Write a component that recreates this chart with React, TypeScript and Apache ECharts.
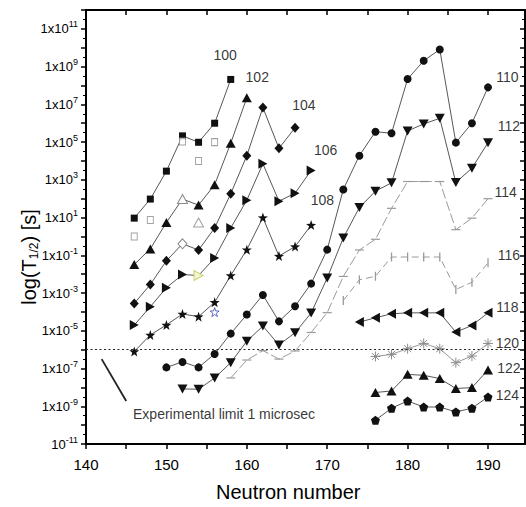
import React, { useEffect, useRef } from 'react';
import * as echarts from 'echarts';

const FONT = '"Liberation Sans Narrow", "Arial Narrow", "Liberation Sans", Arial, sans-serif';

// Neutron numbers (x) and log10 of half-life in seconds (y)
const n100 = [146, 148, 150, 152, 154, 156, 158];
const t100 = [0.97, 1.98, 3.46, 5.33, 4.99, 6.0, 8.32];
const n100open = [146, 148, 152, 154, 156];
const t100open = [0.0, 0.87, 5.03, 4.0, 5.0];

const n102 = [146, 148, 150, 152, 154, 156, 158, 160];
const t102 = [-1.49, -0.66, 0.74, 1.98, 1.66, 2.74, 4.94, 7.35];
const n102open = [154];
const t102open = [0.74];

const n104 = [146, 148, 150, 152, 154, 156, 158, 160, 162, 164, 166];
const t104 = [-3.55, -2.55, -1.29, -0.39, -0.72, 0.45, 2.26, 4.28, 6.83, 4.67, 5.76];

const n106 = [146, 148, 150, 152, 154, 156, 158, 160, 162, 164, 166, 168];
const t106 = [-4.7, -3.72, -2.72, -2.02, -2.07, -1.14, 0.45, 1.92, 3.85, 1.87, 2.29, 3.5];

const n108 = [146, 148, 150, 152, 154, 156, 158, 160, 162, 164, 166, 168];
const t108 = [-6.1, -5.22, -4.69, -4.11, -4.25, -3.49, -2.07, -0.7, 1.0, -1.04, -0.54, 0.6];
const n108open = [156];
const t108open = [-4.01];

const n110 = [150, 152, 154, 156, 158, 160, 162, 164, 166, 168, 170, 172, 174, 176, 178, 180, 182, 184, 186, 188, 190];
const t110 = [-6.94, -6.65, -6.94, -6.23, -5.15, -4.14, -3.1, -4.5, -3.7, -2.5, -0.7, 2.49, 4.28, 5.55, 5.47, 8.34, 9.31, 9.91, 4.97, 6.0, 7.9];

const n112 = [152, 154, 156, 158, 160, 162, 164, 166, 168, 170, 172, 174, 176, 178, 180, 182, 184, 186, 188, 190];
const t112 = [-8.08, -8.1, -7.5, -6.69, -5.55, -4.75, -5.75, -5.1, -4.06, -2.2, -0.08, 1.53, 2.4, 2.84, 5.59, 5.96, 6.26, 2.86, 3.62, 4.97];

const n114 = [158, 160, 162, 164, 166, 168, 170, 172, 174, 176, 178, 180, 182, 184, 186, 188, 190];
const t114 = [-7.5, -6.55, -6.05, -6.5, -6.07, -5.09, -4.04, -2.12, -0.72, -0.15, 1.49, 2.91, 2.91, 2.91, 0.36, 0.97, 2.0];

const n116 = [172, 174, 176, 178, 180, 182, 184, 186, 188, 190];
const t116 = [-3.4, -2.3, -2.11, -1.09, -1.09, -1.09, -1.09, -2.81, -2.43, -1.4];

const n118 = [174, 176, 178, 180, 182, 184, 186, 188, 190];
const t118 = [-4.54, -4.31, -4.1, -4.05, -4.05, -4.05, -5.07, -4.72, -4.05];

const n120 = [176, 178, 180, 182, 184, 186, 188, 190];
const t120 = [-6.36, -6.25, -5.95, -5.67, -5.95, -6.69, -6.34, -5.67];

const n122 = [176, 178, 180, 182, 184, 186, 188, 190];
const t122 = [-8.27, -8.19, -7.31, -7.36, -7.53, -8.06, -8.01, -7.08];

const n124 = [176, 178, 180, 182, 184, 186, 188, 190];
const t124 = [-9.74, -9.1, -8.72, -9.04, -9.04, -9.3, -9.1, -8.51];

// Hollow (alternative) points lying on the connected curves
const hollow102 = [152];
const hollow104 = [152];
const hollow106 = [154];

// Experimental limit: 1 microsecond
const limitLog = -6;

// Curve labels (proton numbers) and their anchor points in data coordinates
const labelTexts = ['100', '102', '104', '106', '108', '110', '112', '114', '116', '118', '120', '122', '124'];
const labelN = [157.3, 161.3, 167.1, 169.8, 169.4, 192.4, 192.6, 192.2, 192.6, 192.4, 192.4, 192.6, 192.4];
const labelT = [9.61, 8.46, 6.96, 4.59, 1.94, 8.43, 5.85, 2.38, -0.96, -3.73, -5.67, -6.95, -8.42];

const noteText = 'Experimental limit 1 microsec';
const noteAt = [145.85, -9.4];
const arrowFrom = [145.0, -8.72];
const arrowTo = [141.95, -6.5];

const STAR = 'path://M0,-10 L2.35,-3.24 L9.51,-3.09 L3.8,1.24 L5.88,8.09 L0,4 L-5.88,8.09 L-3.8,1.24 L-9.51,-3.09 L-2.35,-3.24 Z';
const PENT = 'path://M0,-10 L9.51,-3.09 L5.88,8.09 L-5.88,8.09 L-9.51,-3.09 Z';
const ASTER = 'path://M0,-10 L0,10 M-10,0 L10,0 M-7,-7 L7,7 M-7,7 L7,-7';

const pairs = (ns: number[], ts: number[]) => ns.map((n, i) => [n, ts[i]]);

export default function App() {
  const ref = useRef<HTMLDivElement>(null);
  useEffect(() => {
    if (!ref.current) return;
    const chart = echarts.init(ref.current, null, { renderer: 'svg' });

    const black = '#000';
    const lineCol = '#444';
    const grayCol = '#9a9a9a';

    const withHollow = (ns: number[], ts: number[], hollow: number[], border: string, fill: string) =>
      ns.map((n, i) =>
        hollow.includes(n)
          ? { value: [n, ts[i]], itemStyle: { color: fill, borderColor: border, borderWidth: 1 } }
          : [n, ts[i]]
      );

    const filledLine = (name: string, data: any[], symbol: string, size: any, rotate = 0, extra: any = {}) => ({
      name,
      type: 'line',
      data,
      symbol,
      symbolSize: size,
      symbolRotate: rotate,
      itemStyle: { color: '#111' },
      lineStyle: { color: lineCol, width: 0.9 },
      z: 3,
      ...extra,
    });

    const series: any[] = [
      filledLine('100', pairs(n100, t100), 'rect', 7),
      filledLine('102', withHollow(n102, t102, hollow102, '#8a8a8a', '#fff'), 'triangle', [10, 9]),
      filledLine('104', withHollow(n104, t104, hollow104, '#8a8a8a', '#fff'), 'diamond', [9, 10]),
      filledLine('106', withHollow(n106, t106, hollow106, '#c9cf6e', '#f3f6cf'), 'triangle', [10, 9], -90),
      filledLine('108', pairs(n108, t108), STAR, 10),
      filledLine('110', pairs(n110, t110), 'circle', 8),
      filledLine('112', pairs(n112, t112), 'triangle', [10, 9], 180),
      {
        name: '114', type: 'line', data: pairs(n114, t114), symbol: 'rect', symbolSize: [9, 1.2],
        itemStyle: { color: grayCol }, lineStyle: { color: grayCol, width: 1, type: [10, 3] },
      },
      {
        name: '116', type: 'line', data: pairs(n116, t116), symbol: 'rect', symbolSize: [1.3, 9],
        itemStyle: { color: grayCol }, lineStyle: { color: grayCol, width: 1, type: [7, 4] },
      },
      filledLine('118', pairs(n118, t118), 'triangle', [10, 9], 90),
      {
        name: '120', type: 'line', data: pairs(n120, t120), symbol: ASTER, symbolSize: 10,
        itemStyle: { color: 'none', borderColor: '#8c8c8c', borderWidth: 1 },
        lineStyle: { color: '#8c8c8c', width: 0.9 },
      },
      filledLine('122', pairs(n122, t122), 'triangle', [10, 9]),
      filledLine('124', pairs(n124, t124), PENT, 9),
      {
        name: 'open100', type: 'scatter', data: pairs(n100open, t100open), symbol: 'rect', symbolSize: [6, 7],
        itemStyle: { color: '#fff', borderColor: '#8a8a8a', borderWidth: 1 }, z: 4,
      },
      {
        name: 'open102', type: 'scatter', data: pairs(n102open, t102open), symbol: 'triangle', symbolSize: [10, 9],
        itemStyle: { color: '#fff', borderColor: '#8a8a8a', borderWidth: 1 },
      },
      {
        name: 'open108', type: 'scatter', data: pairs(n108open, t108open), symbol: STAR, symbolSize: 9,
        itemStyle: { color: '#fff', borderColor: '#3a48b0', borderWidth: 1 },
      },
      {
        name: 'limit', type: 'line', data: [], symbol: 'none',
        markLine: {
          silent: true, symbol: ['none', 'none'], animation: false,
          data: [{ yAxis: limitLog }],
          lineStyle: { type: [2, 2.5], color: '#222', width: 1.2 },
          label: { show: false },
        },
      },
      {
        name: 'arrow', type: 'line', data: [arrowFrom, arrowTo], symbol: 'none',
        lineStyle: { color: '#222', width: 1.8 },
      },
      {
        name: 'labels', type: 'scatter', symbolSize: 0, z: 5,
        data: labelTexts.map((t, i) => ({ value: [labelN[i], labelT[i]], name: t })),
        label: {
          show: true, position: 'inside', formatter: (p: any) => p.name,
          color: black, fontSize: 14, fontFamily: FONT,
        },
      },
      {
        name: 'note', type: 'scatter', symbolSize: 0, z: 5,
        data: [{ value: noteAt, name: noteText }],
        label: {
          show: true, position: 'inside', align: 'left', verticalAlign: 'middle', formatter: (p: any) => p.name,
          color: black, fontSize: 14, fontFamily: FONT,
        },
      },
    ];

    const yLabel = (v: number) => {
      if (Math.abs(v) % 2 !== 1) return '';
      return v === -11 ? `{b|10}{s|${v}}` : `{b|1x10}{s|${v}}`;
    };

    chart.setOption({
      animation: false,
      grid: { left: 86, right: 1, top: 10, bottom: 63, containLabel: false },
      xAxis: [
        {
          type: 'value', min: 140, max: 194.6, interval: 5, position: 'bottom',
          axisLine: { show: true, onZero: false, lineStyle: { color: black, width: 2 } },
          axisTick: { show: true, inside: false, length: 5, lineStyle: { color: black, width: 1.5 } },
          axisLabel: {
            formatter: (v: number) => (v % 10 === 0 ? String(v) : ''),
            color: black, fontSize: 15, fontFamily: FONT, margin: 13, showMaxLabel: false,
          },
          splitLine: { show: false },
        },
        {
          type: 'value', min: 140, max: 194.6, interval: 5, position: 'top',
          axisLine: { show: true, onZero: false, lineStyle: { color: black, width: 2 } },
          axisTick: { show: true, inside: true, length: 5, lineStyle: { color: black, width: 1.5 } },
          axisLabel: { show: false },
          splitLine: { show: false },
        },
      ],
      yAxis: [
        {
          type: 'value', min: -11, max: 12, interval: 1, position: 'left',
          axisLine: { show: true, onZero: false, lineStyle: { color: black, width: 2 } },
          axisTick: { show: true, inside: false, length: 5, lineStyle: { color: black, width: 1.5 } },
          minorTick: { show: true, splitNumber: 2, length: 3, lineStyle: { color: black, width: 1 } },
          axisLabel: {
            formatter: yLabel, margin: 8, color: black,
            rich: {
              b: { fontSize: 13, fontFamily: FONT, color: black },
              s: { fontSize: 9, fontFamily: FONT, color: black, padding: [0, 0, 9, 0] },
            },
          },
          splitLine: { show: false },
        },
        {
          type: 'value', min: -11, max: 12, interval: 1, position: 'right',
          axisLine: { show: true, onZero: false, lineStyle: { color: black, width: 2 } },
          axisTick: { show: true, inside: true, length: 5, lineStyle: { color: black, width: 1.5 } },
          minorTick: { show: true, splitNumber: 2, length: 3, lineStyle: { color: black, width: 1 } },
          axisLabel: { show: false },
          splitLine: { show: false },
        },
      ],
      graphic: [
        {
          type: 'text', left: 216, top: 482,
          style: { text: 'Neutron number', fontSize: 20, fontFamily: FONT, fill: black },
        },
        {
          type: 'text', x: 29, y: 257, rotation: Math.PI / 2,
          style: {
            text: '{a|log(T}{s|1/2}{a|) [s]}',
            align: 'center', verticalAlign: 'middle',
            rich: {
              a: { fontSize: 20, fontFamily: FONT, fill: black },
              s: { fontSize: 12, fontFamily: FONT, fill: black, padding: [10, 0, 0, 0] },
            },
          },
        },
      ],
      series,
    });

    return () => chart.dispose();
  }, []);

  return (
    <div
      ref={ref}
      style={{ position: 'fixed', left: 0, top: 0, width: 526, height: 507, background: '#fff' }}
    />
  );
}
